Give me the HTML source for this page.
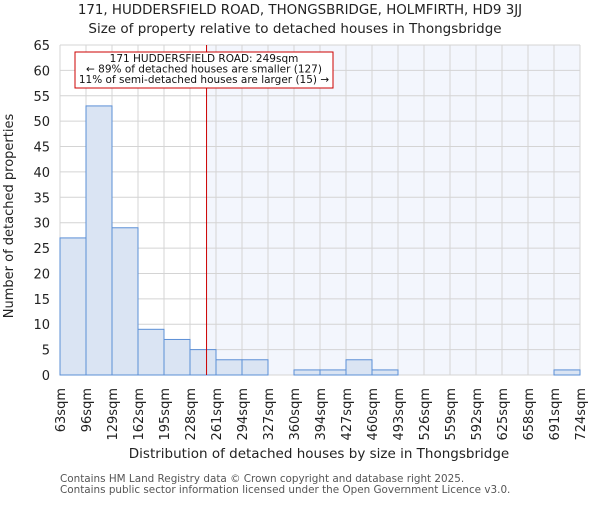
<!DOCTYPE html>
<html><head><meta charset="utf-8"><style>body{margin:0;background:#fff}svg{font-family:"DejaVu Sans","Liberation Sans",sans-serif}</style></head>
<body>
<svg id="c" width="600" height="500" viewBox="0 0 600 500"></svg>
<script>
const binLabels=["63sqm","96sqm","129sqm","162sqm","195sqm","228sqm","261sqm","294sqm","327sqm","360sqm","394sqm","427sqm","460sqm","493sqm","526sqm","559sqm","592sqm","625sqm","658sqm","691sqm","724sqm"];
const counts=[27,53,29,9,7,5,3,3,0,1,1,3,1,0,0,0,0,0,0,1];
const yTicks=[0,5,10,15,20,25,30,35,40,45,50,55,60,65];
const marker=249;
const edges=[63,96,129,162,195,228,261,294,327,360,394,427,460,493,526,559,592,625,658,691,724];
const L=60,R=580,T=45,B=375,yMax=65;
const svg=document.getElementById('c');
const NS='http://www.w3.org/2000/svg';
const n=counts.length,bw=(R-L)/n;
const x=i=>L+i*bw;
const y=v=>B-v/yMax*(B-T);
function xv(v){for(let i=0;i<edges.length-1;i++){if(v<=edges[i+1])return x(i)+(v-edges[i])/(edges[i+1]-edges[i])*bw;}return R;}
function mk(t,a,p){const e=document.createElementNS(NS,t);for(const k in a)e.setAttribute(k,a[k]);(p||svg).appendChild(e);return e;}
const mx=xv(marker);
let e;
e=mk('rect',{x:mx,y:T,width:R-mx,height:B-T,fill:'#f3f6fd'});


for(let i=0;i<=n;i++){e=mk('line',{x1:x(i),x2:x(i),y1:T,y2:B,stroke:'#d4d4d4','stroke-width':1});

}
yTicks.forEach(t=>{e=mk('line',{x1:L,x2:R,y1:y(t),y2:y(t),stroke:'#d4d4d4','stroke-width':1});


e=mk('text',{x:L-10,y:y(t)+5,'text-anchor':'end','font-size':13,fill:'#222'});e.textContent=t;

});
counts.forEach((c,i)=>{if(c<=0)return;e=mk('rect',{x:x(i),y:y(c),width:bw,height:B-y(c),fill:'#dae4f3',stroke:'#5b8fd6','stroke-width':1});

});
binLabels.forEach((l,i)=>{e=mk('text',{transform:`translate(${x(i)+5},388) rotate(-90)`,'text-anchor':'end','font-size':13,fill:'#222'});e.textContent=l;

});
e=mk('line',{x1:mx,x2:mx,y1:T,y2:B,stroke:'#cc0000','stroke-width':1});


e=mk('rect',{x:75,y:52,width:258,height:36,fill:'#fff',stroke:'#cc0000','stroke-width':1});


["171 HUDDERSFIELD ROAD: 249sqm","← 89% of detached houses are smaller (127)","11% of semi-detached houses are larger (15) →"].forEach((s,i)=>{e=mk('text',{x:204,y:62+i*10.5,'text-anchor':'middle','font-size':10.5,fill:'#111'});e.textContent=s;

});
const texts=[["171, HUDDERSFIELD ROAD, THONGSBRIDGE, HOLMFIRTH, HD9 3JJ",300,14,13.4,'middle','#222','chart-title'],["Size of property relative to detached houses in Thongsbridge",295,33,13.5,'middle','#222','chart-subtitle'],["Distribution of detached houses by size in Thongsbridge",319,458,13.5,'middle','#222','x-axis-title'],["Contains HM Land Registry data © Crown copyright and database right 2025.",60,482,10.4,'start','#555','footer-line-1'],["Contains public sector information licensed under the Open Government Licence v3.0.",60,493,10.4,'start','#555','footer-line-2']];
texts.forEach(t=>{e=mk('text',{x:t[1],y:t[2],'font-size':t[3],'text-anchor':t[4],fill:t[5]});e.textContent=t[0];

});
e=mk('text',{transform:'translate(13,216) rotate(-90)','text-anchor':'middle','font-size':13,fill:'#222'});e.textContent='Number of detached properties';


</script>
</body></html>
